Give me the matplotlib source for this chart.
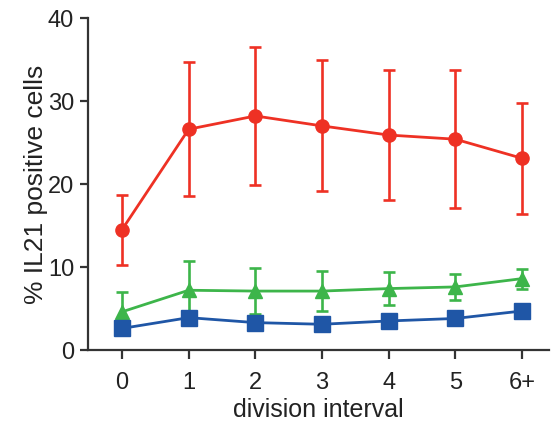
import matplotlib
matplotlib.use("Agg")
import matplotlib.pyplot as plt

categories = ["0", "1", "2", "3", "4", "5", "6+"]
red_vals = [14.5, 26.6, 28.2, 27.0, 25.9, 25.4, 23.1]
red_err = [4.2, 8.1, 8.3, 7.9, 7.8, 8.3, 6.7]
green_vals = [4.6, 7.2, 7.1, 7.1, 7.4, 7.6, 8.6]
green_err = [2.4, 3.5, 2.8, 2.4, 2.0, 1.6, 1.2]
blue_vals = [2.6, 3.9, 3.3, 3.1, 3.5, 3.8, 4.7]
blue_err = [0.6, 0.7, 0.6, 0.6, 0.6, 0.6, 0.6]
yticks = [0, 10, 20, 30, 40]

plt.rcParams['font.family'] = ['Liberation Sans', 'DejaVu Sans']

fig = plt.figure(figsize=(5.55, 4.26), dpi=100)
ax = fig.add_axes([0.1586, 0.1784, 0.83, 0.7793])

x = list(range(len(categories)))
red = "#EE3124"
green = "#3DB54A"
blue = "#1F56A6"

common = dict(lw=2.0, elinewidth=1.9, capsize=4.3, capthick=1.9, clip_on=False)
ax.errorbar(x, red_vals, yerr=red_err, color=red, marker='o', ms=9.5, zorder=3, **common)
ax.errorbar(x, green_vals, yerr=green_err, color=green, marker='^', ms=9.5, zorder=4, **common)
ax.errorbar(x, blue_vals, yerr=blue_err, color=blue, marker='s', ms=11.5, zorder=5, **common)

ax.set_xlim(-0.51, 6.4)
ax.set_ylim(0, 40)
ax.set_xticks(x)
ax.set_xticklabels(categories)
ax.set_yticks(yticks)
for s in ['top', 'right']:
    ax.spines[s].set_visible(False)
for s in ['left', 'bottom']:
    ax.spines[s].set_linewidth(1.6)
    ax.spines[s].set_color('#333333')
ax.tick_params(direction='out', width=1.6, color='#333333', labelsize=17, labelcolor='#222222')
ax.tick_params(axis='x', length=6.5, pad=9)
ax.tick_params(axis='y', length=6, pad=4)
ax.set_xlabel("division interval", fontsize=18, color='#222222', labelpad=3)
ax.set_ylabel("% IL21 positive cells", fontsize=19, color='#222222', labelpad=0)

fig.savefig("out.png", dpi=100)
